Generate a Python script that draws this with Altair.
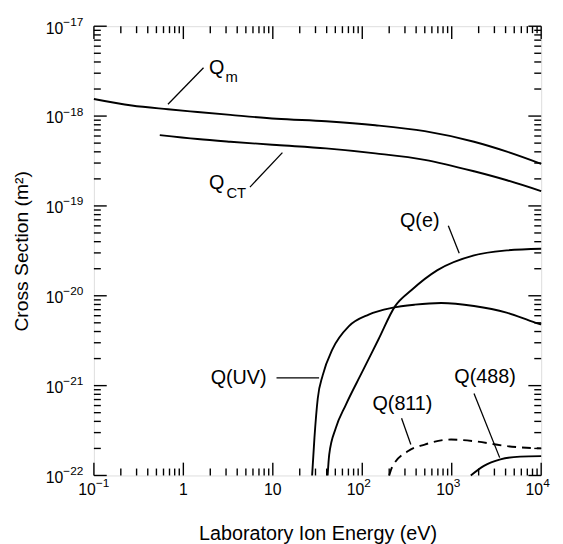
import altair as alt
import pandas as pd

FONT = "Liberation Sans"

# ---- curve data ----
qm_E = [0.1, 0.265, 0.673, 1.44, 3.36, 11.0, 39.3, 140, 499, 1775, 4140, 10000]
qm_Q = [1.55e-18, 1.31e-18, 1.19e-18, 1.11e-18, 1.03e-18, 9.34e-19, 8.75e-19,
        7.91e-19, 6.79e-19, 5.18e-19, 4.02e-19, 2.94e-19]
qct_E = [0.545, 1.44, 3.36, 11.0, 39.3, 140, 499, 1775, 4140, 10000]
qct_Q = [6.14e-19, 5.55e-19, 5.18e-19, 4.76e-19, 4.37e-19, 3.85e-19, 3.26e-19,
         2.43e-19, 1.93e-19, 1.46e-19]
qe_E = [41.0, 42.7, 50.6, 65.3, 99.8, 152, 232, 356, 693, 1775, 4140, 10000]
qe_Q = [1.0e-22, 1.71e-22, 3.37e-22, 6.08e-22, 1.42e-21, 3.28e-21, 7.62e-21,
        1.16e-20, 1.93e-20, 2.82e-20, 3.2e-20, 3.34e-20]
quv_E = [27.5, 29.2, 31.8, 36.1, 46.5, 71, 118, 214, 386, 762, 1775, 4100, 8700, 10000]
quv_Q = [1.0e-22, 2.62e-22, 7.19e-22, 1.30e-21, 2.55e-21, 4.6e-21, 6.18e-21,
         7.33e-21, 7.96e-21, 8.31e-21, 7.7e-21, 6.5e-21, 5.0e-21, 4.8e-21]
q811_E = [200, 214, 326, 499, 982, 1774, 4140, 10000]
q811_Q = [1.0e-22, 1.22e-22, 1.87e-22, 2.21e-22, 2.51e-22, 2.41e-22, 2.12e-22, 2.0e-22]
q488_E = [1633, 2291, 3500, 5820, 10000]
q488_Q = [1.0e-22, 1.28e-22, 1.51e-22, 1.62e-22, 1.64e-22]

# ---- curve labels ----
main_labels = ["Q", "Q", "Q(e)", "Q(UV)", "Q(811)", "Q(488)"]
main_E = [1.94, 1.94, 264, 2.02, 130, 1069]
main_Q = [2.92e-18, 1.53e-19, 5.87e-20, 1.03e-21, 5.31e-22, 1.08e-21]
sub_labels = ["m", "CT"]
sub_E = [2.96, 3.03]
sub_Q = [2.40e-18, 1.23e-19]

# leader lines
lead_E1 = [0.673, 5.55, 916, 11.0, 275, 1775]
lead_Q1 = [1.355e-18, 1.62e-19, 6.03e-20, 1.22e-21, 4.34e-22, 8.17e-22]
lead_E2 = [1.68, 12.8, 1213, 32.9, 349, 3436]
lead_Q2 = [3.45e-18, 3.92e-19, 2.97e-20, 1.22e-21, 2.21e-22, 1.58e-22]

# ---- axis tick labels ----
x_major = [0.1, 1, 10, 100, 1000, 10000]
x_base = ["10", "1", "10", "10", "10", "10"]
x_exp = ["\u22121", "", "", "2", "3", "4"]
y_major = [1e-22, 1e-21, 1e-20, 1e-19, 1e-18, 1e-17]
y_base = ["10", "10", "10", "10", "10", "10"]
y_exp = ["\u221222", "\u221221", "\u221220", "\u221219", "\u221218", "\u221217"]
x_minor = [m * 10.0 ** d for d in range(-1, 4) for m in range(2, 10)]
y_minor = [m * 10.0 ** d for d in range(-22, -17) for m in range(2, 10)]

W, H = 453, 455
MAJ, MIN = 13, 7

xs = alt.Scale(type="log", domain=[0.1, 10000], nice=False)
ys = alt.Scale(type="log", domain=[1e-22, 1e-17], nice=False)

x_axis = alt.Axis(labels=False, ticks=False, tickSize=0, domain=False, grid=False,
                  title="Laboratory Ion Energy (eV)", titleFont=FONT,
                  titleFontSize=20, titleFontWeight="normal", titleColor="black",
                  titleY=65, titleBaseline="alphabetic")
y_axis = alt.Axis(labels=False, ticks=False, tickSize=0, domain=False, grid=False,
                  title="Cross Section (m\u00b2)", titleFont=FONT,
                  titleFontSize=19.5, titleFontWeight="normal", titleColor="black",
                  titleX=-67, titleBaseline="alphabetic")

def X(f):
    return alt.X(f, type="quantitative", scale=xs, axis=x_axis)

def Y(f):
    return alt.Y(f, type="quantitative", scale=ys, axis=y_axis)

# ---- build tables ----
rows = []
for name, E, Q in [("Qm", qm_E, qm_Q), ("QCT", qct_E, qct_Q), ("Qe", qe_E, qe_Q),
                   ("QUV", quv_E, quv_Q), ("Q488", q488_E, q488_Q)]:
    for e, q in zip(E, Q):
        rows.append({"series": name, "E": e, "Q": q})
solid_df = pd.DataFrame(rows)
dash_df = pd.DataFrame({"series": "Q811", "E": q811_E, "Q": q811_Q})
lab_df = pd.DataFrame({"t": main_labels, "E": main_E, "Q": main_Q})
sub_df = pd.DataFrame({"t": sub_labels, "E": sub_E, "Q": sub_Q})
lead_df = pd.DataFrame({"E": lead_E1, "Q": lead_Q1, "E2": lead_E2, "Q2": lead_Q2})
xlab_df = pd.DataFrame({"v": x_major, "b": x_base, "e": x_exp})
ylab_df = pd.DataFrame({"v": y_major, "b": y_base, "e": y_exp})
xmaj_df = pd.DataFrame({"v": x_major})
xmin_df = pd.DataFrame({"v": x_minor})
ymaj_df = pd.DataFrame({"v": y_major})
ymin_df = pd.DataFrame({"v": y_minor})

solid = alt.Chart(solid_df).mark_line(color="black", strokeWidth=1.9,
                                      interpolate="monotone").encode(
    x=X("E"), y=Y("Q"), detail="series:N")
dashed = alt.Chart(dash_df).mark_line(color="black", strokeWidth=1.9,
                                      strokeDash=[9, 6], interpolate="monotone").encode(
    x=X("E"), y=Y("Q"))
leaders = alt.Chart(lead_df).mark_rule(color="black", strokeWidth=1.3).encode(
    x=X("E"), y=Y("Q"), x2="E2:Q", y2="Q2:Q")
labels = alt.Chart(lab_df).mark_text(font=FONT, fontSize=20, align="left",
                                     baseline="alphabetic", color="black").encode(
    x=X("E"), y=Y("Q"), text="t:N")
subs = alt.Chart(sub_df).mark_text(font=FONT, fontSize=15, align="left",
                                   baseline="alphabetic", color="black").encode(
    x=X("E"), y=Y("Q"), text="t:N")

# x tick labels
xl_base_exp = alt.Chart(xlab_df).transform_filter("datum.e != ''").mark_text(
    font=FONT, fontSize=16, align="right", baseline="alphabetic", dx=2, dy=20,
    color="black").encode(x=X("v"), y=alt.value(H), text="b:N")
xl_plain = alt.Chart(xlab_df).transform_filter("datum.e == ''").mark_text(
    font=FONT, fontSize=16, align="center", baseline="alphabetic", dy=20,
    color="black").encode(x=X("v"), y=alt.value(H), text="b:N")
xl_exp = alt.Chart(xlab_df).transform_filter("datum.e != ''").mark_text(
    font=FONT, fontSize=12, align="left", baseline="alphabetic", dx=2, dy=12,
    color="black").encode(x=X("v"), y=alt.value(H), text="e:N")
# y tick labels
yl_base = alt.Chart(ylab_df).mark_text(
    font=FONT, fontSize=16, align="right", baseline="alphabetic", dy=7.5,
    color="black").encode(y=Y("v"), x=alt.value(-31), text="b:N")
yl_exp = alt.Chart(ylab_df).mark_text(
    font=FONT, fontSize=12, align="left", baseline="alphabetic", dy=-0.5,
    color="black").encode(y=Y("v"), x=alt.value(-31), text="e:N")

def xticks(df, L):
    top = alt.Chart(df).mark_rule(color="black", strokeWidth=1.4).encode(
        x=X("v"), y=alt.value(0), y2=alt.value(L))
    bot = alt.Chart(df).mark_rule(color="black", strokeWidth=1.4).encode(
        x=X("v"), y=alt.value(H), y2=alt.value(H - L))
    return [top, bot]

def yticks(df, L):
    left = alt.Chart(df).mark_rule(color="black", strokeWidth=1.4).encode(
        y=Y("v"), x=alt.value(0), x2=alt.value(L))
    right = alt.Chart(df).mark_rule(color="black", strokeWidth=1.4).encode(
        y=Y("v"), x=alt.value(W), x2=alt.value(W - L))
    return [left, right]

layers = [solid, dashed, leaders, labels, subs,
          xl_base_exp, xl_plain, xl_exp, yl_base, yl_exp]
layers += xticks(xmaj_df, MAJ) + xticks(xmin_df, MIN)
layers += yticks(ymaj_df, MAJ) + yticks(ymin_df, MIN)

chart = alt.layer(*layers).properties(
    width=W, height=H,
    autosize=alt.AutoSizeParams(type="none"),
    padding={"left": 87, "top": 15, "right": 14, "bottom": 70},
).configure_view(stroke="black", strokeWidth=1.9).configure(background="white")

chart.save("out.html", embed_options={"renderer": "svg", "actions": False})
